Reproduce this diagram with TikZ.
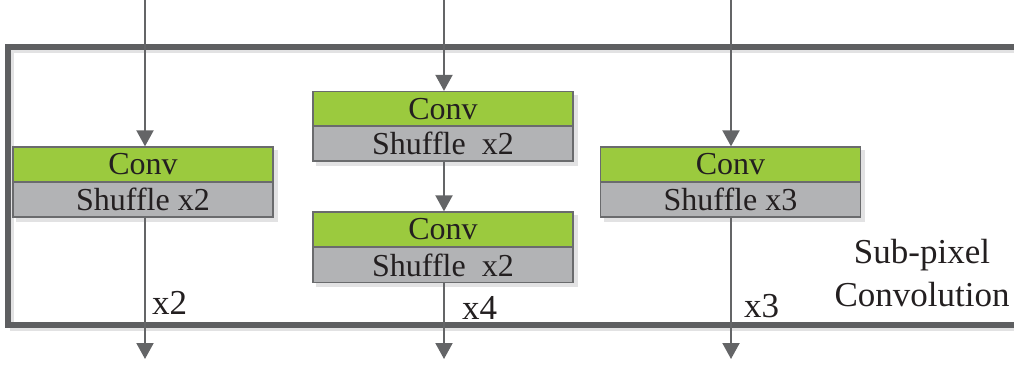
\documentclass[tikz,border=0pt]{standalone}
\usepackage{fontspec}
\setmainfont{Liberation Serif}
\usetikzlibrary{arrows.meta,calc,backgrounds}
\definecolor{convgreen}{HTML}{9BCA3E}
\definecolor{shufgray}{HTML}{B2B3B5}
\definecolor{edgegray}{HTML}{6A6B6D}
\definecolor{arrowgray}{HTML}{646567}
\definecolor{framegray}{HTML}{5E5F61}
\definecolor{shadowgray}{HTML}{E2E2E3}
\definecolor{txt}{HTML}{231F20}
\tikzset{
  conv/.style={draw=edgegray, line width=1.3pt, fill=convgreen, minimum width=260pt, minimum height=35pt, inner sep=0pt, text=txt, font=\fontsize{32}{36}\selectfont},
  shuf/.style={draw=edgegray, line width=1.3pt, fill=shufgray, minimum width=260pt, minimum height=35pt, inner sep=0pt, text=txt, font=\fontsize{32}{36}\selectfont},
  flow/.style={draw=arrowgray, line width=2pt, -{Triangle[length=16pt,width=17pt]}},
  lab/.style={text=txt, font=\fontsize{35}{40}\selectfont, inner sep=0pt},
  shadowbox/.style={fill=shadowgray}
}
\begin{document}
\begin{tikzpicture}[x=1pt,y=-1pt]
\useasboundingbox (0,0) rectangle (1014,367);
\begin{scope}
\clip (0,0) rectangle (1014,367);
% frame shadow and frame
\draw[shadowgray, line width=4pt] (1030,51) -- (12,51) -- (12,329) -- (1030,329);
\draw[framegray, line width=6pt] (1030,47) -- (8,47) -- (8,325) -- (1030,325);
\end{scope}
% boxes
\node[conv] (c1) at (143,164.5) {Conv};
\node[shuf] (s1) at (143,199.5) {Shuffle x2};
\node[conv] (c2) at (443,109) {Conv};
\node[shuf] (s2) at (443,143.5) {Shuffle\ \ x2};
\node[conv] (c3) at (443,229.5) {Conv};
\node[shuf] (s3) at (443,265) {Shuffle\ \ x2};
\node[conv] (c4) at (730.5,164.5) {Conv};
\node[shuf] (s4) at (730.5,199.5) {Shuffle x3};
\begin{scope}[on background layer]
\fill[shadowbox] ($(c1.north west)+(4,4)$) rectangle ($(s1.south east)+(4,4)$);
\fill[shadowbox] ($(c2.north west)+(4,4)$) rectangle ($(s2.south east)+(4,4)$);
\fill[shadowbox] ($(c3.north west)+(4,4)$) rectangle ($(s3.south east)+(4,4)$);
\fill[shadowbox] ($(c4.north west)+(4,4)$) rectangle ($(s4.south east)+(4,4)$);
\end{scope}
% inputs / outputs
\coordinate (in1) at (145,0);
\coordinate (in2) at (444,0);
\coordinate (in3) at (731,0);
\coordinate (out1) at (145,359);
\coordinate (out2) at (444,359);
\coordinate (out3) at (731,359);
\draw[flow] (in1) -- (c1.north -| in1);
\draw[flow] (in2) -- (c2.north -| in2);
\draw[flow] (in3) -- (c4.north -| in3);
\draw[flow] (s2.south -| in2) -- (c3.north -| in2);
\draw[flow] (s1.south -| in1) -- (out1);
\draw[flow] (s3.south -| in2) -- (out2);
\draw[flow] (s4.south -| in3) -- (out3);
% labels
\node[lab, anchor=west] (l1) at (152,303) {x2};
\node[lab, anchor=west] (l2) at (462,308) {x4};
\node[lab, anchor=west] (l3) at (744,306) {x3};
\node[lab] (t1) at (922,255) {Sub-pixel};
\node[lab] (t2) at (922,295) {Convolution};
\end{tikzpicture}
\end{document}
